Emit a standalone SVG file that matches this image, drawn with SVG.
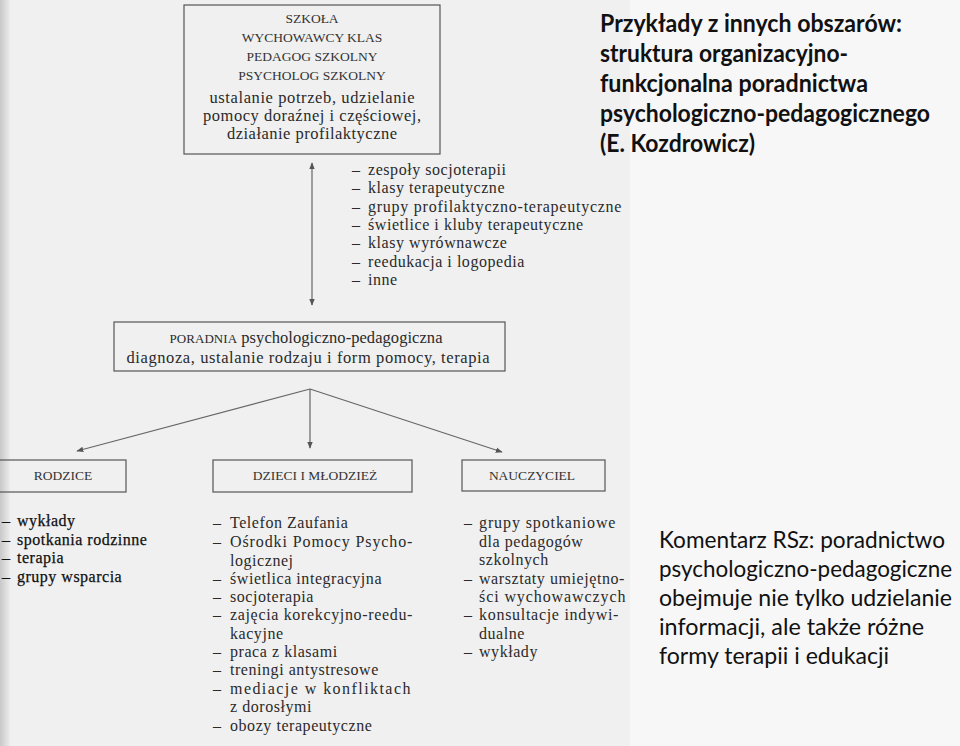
<svg xmlns="http://www.w3.org/2000/svg" width="960" height="746" viewBox="0 0 960 746">
<style>
.bg{fill:#f7f7f7}
.box{fill:none;stroke:#555;stroke-width:1.2}
.sc{font-family:"Liberation Serif",serif;font-size:13.5px;fill:#333;text-anchor:middle}
.bt{font-family:"Liberation Serif",serif;font-size:16.5px;fill:#2a2a2a;text-anchor:middle}
.li{font-family:"Liberation Serif",serif;font-size:16px;letter-spacing:0.55px;fill:#2a2a2a}
.lb{font-family:"Liberation Serif",serif;font-size:16px;letter-spacing:0.55px;fill:#2a2a2a}
.ld{font-family:"Liberation Serif",serif;font-size:16px;letter-spacing:0.5px;fill:#111;stroke:#111;stroke-width:0.25}
.hd{font-family:Lato,"Open Sans",sans-serif;font-size:24px;font-weight:bold;fill:#111}
.cm{font-family:Lato,"Open Sans",sans-serif;font-size:23px;fill:#111}
.conn{stroke:#666;stroke-width:1.2;fill:none}
</style>
<defs>
<linearGradient id="edge" x1="0" y1="0" x2="1" y2="0">
<stop offset="0" stop-color="#c8c8c8"/>
<stop offset="1" stop-color="#ececec"/>
</linearGradient>
<marker id="ah" viewBox="0 0 10 10" refX="9" refY="5" markerWidth="7" markerHeight="7" orient="auto-start-reverse" markerUnits="userSpaceOnUse">
<path d="M0,1 L10,5 L0,9 Z" fill="#555"/>
</marker>
</defs>
<rect class="bg" x="0" y="0" width="960" height="746"/>
<rect x="0" y="0" width="630" height="746" fill="#f0f0f0"/>
<rect x="0" y="0" width="10" height="746" fill="url(#edge)"/>

<g id="szkola">
<rect class="box" x="184" y="5" width="256" height="149"/>
<text class="sc" x="312" y="23">SZKOŁA</text>
<text class="sc" x="312" y="42">WYCHOWAWCY KLAS</text>
<text class="sc" x="312" y="61">PEDAGOG SZKOLNY</text>
<text class="sc" x="312" y="80">PSYCHOLOG SZKOLNY</text>
<text class="bt" x="312" y="103" textLength="205">ustalanie potrzeb, udzielanie</text>
<text class="bt" x="312" y="121" textLength="218">pomocy doraźnej i częściowej,</text>
<text class="bt" x="312" y="139" textLength="170">działanie profilaktyczne</text>
</g>

<g id="formy-szkolne">
<text class="li" y="175"><tspan x="352">–</tspan><tspan x="368">zespoły socjoterapii</tspan></text>
<text class="li" y="193"><tspan x="352">–</tspan><tspan x="368">klasy terapeutyczne</tspan></text>
<text class="li" y="212"><tspan x="352">–</tspan><tspan x="368" textLength="254">grupy profilaktyczno-terapeutyczne</tspan></text>
<text class="li" y="230"><tspan x="352">–</tspan><tspan x="368">świetlice i kluby terapeutyczne</tspan></text>
<text class="li" y="248"><tspan x="352">–</tspan><tspan x="368">klasy wyrównawcze</tspan></text>
<text class="li" y="267"><tspan x="352">–</tspan><tspan x="368">reedukacja i logopedia</tspan></text>
<text class="li" y="285"><tspan x="352">–</tspan><tspan x="368">inne</tspan></text>
</g>

<g id="poradnia">
<rect class="box" x="114" y="322" width="391" height="49"/>
<text class="bt" x="306" y="343" font-size="17px" textLength="273"><tspan font-size="13px">PORADNIA</tspan> psychologiczno-pedagogiczna</text>
<text class="bt" x="308" y="363" font-size="17px" textLength="363">diagnoza, ustalanie rodzaju i form pomocy, terapia</text>
</g>

<g id="rodzice">
<rect class="box" x="-2" y="460" width="128" height="32"/>
<text class="sc" x="63" y="480">RODZICE</text>
<text class="ld" y="526"><tspan x="2">–</tspan><tspan x="17">wykłady</tspan></text>
<text class="ld" y="545"><tspan x="2">–</tspan><tspan x="17">spotkania rodzinne</tspan></text>
<text class="ld" y="563"><tspan x="2">–</tspan><tspan x="17">terapia</tspan></text>
<text class="ld" y="582"><tspan x="2">–</tspan><tspan x="17">grupy wsparcia</tspan></text>
</g>

<g id="dzieci">
<rect class="box" x="213" y="460" width="199" height="32"/>
<text class="sc" x="315" y="480">DZIECI I MŁODZIEŻ</text>
<text class="lb" y="528"><tspan x="213">–</tspan><tspan x="230">Telefon Zaufania</tspan></text>
<text class="lb" y="547"><tspan x="213">–</tspan><tspan x="230" textLength="183">Ośrodki Pomocy Psycho-</tspan></text>
<text class="lb" x="230" y="566">logicznej</text>
<text class="lb" y="584"><tspan x="213">–</tspan><tspan x="230">świetlica integracyjna</tspan></text>
<text class="lb" y="602"><tspan x="213">–</tspan><tspan x="230">socjoterapia</tspan></text>
<text class="lb" y="620"><tspan x="213">–</tspan><tspan x="230" textLength="183">zajęcia korekcyjno-reedu-</tspan></text>
<text class="lb" x="230" y="639">kacyjne</text>
<text class="lb" y="657"><tspan x="213">–</tspan><tspan x="230">praca z klasami</tspan></text>
<text class="lb" y="675"><tspan x="213">–</tspan><tspan x="230">treningi antystresowe</tspan></text>
<text class="lb" y="694"><tspan x="213">–</tspan><tspan x="230" textLength="181">mediacje w konfliktach</tspan></text>
<text class="lb" x="230" y="712">z dorosłymi</text>
<text class="lb" y="731"><tspan x="213">–</tspan><tspan x="230">obozy terapeutyczne</tspan></text>
</g>

<g id="nauczyciel">
<rect class="box" x="462" y="460" width="143" height="31"/>
<text class="sc" x="532" y="480">NAUCZYCIEL</text>
<text class="lb" y="528"><tspan x="464">–</tspan><tspan x="479" textLength="137">grupy spotkaniowe</tspan></text>
<text class="lb" x="479" y="547">dla pedagogów</text>
<text class="lb" x="479" y="565">szkolnych</text>
<text class="lb" y="584"><tspan x="464">–</tspan><tspan x="479" textLength="146">warsztaty umiejętno-</tspan></text>
<text class="lb" x="479" y="602" textLength="147">ści wychowawczych</text>
<text class="lb" y="620"><tspan x="464">–</tspan><tspan x="479" textLength="140">konsultacje indywi-</tspan></text>
<text class="lb" x="479" y="639">dualne</text>
<text class="lb" y="657"><tspan x="464">–</tspan><tspan x="479">wykłady</tspan></text>
</g>

<g id="connectors">
<line class="conn" x1="312" y1="163" x2="312" y2="305" marker-start="url(#ah)" marker-end="url(#ah)"/>
<line class="conn" x1="310" y1="389" x2="77" y2="451" marker-end="url(#ah)"/>
<line class="conn" x1="310" y1="389" x2="310" y2="448" marker-end="url(#ah)"/>
<line class="conn" x1="310" y1="389" x2="502" y2="452" marker-end="url(#ah)"/>
</g>

<g id="tytul">
<text class="hd" x="600" y="32" textLength="302" lengthAdjust="spacingAndGlyphs">Przykłady z innych obszarów:</text>
<text class="hd" x="600" y="62" textLength="248" lengthAdjust="spacingAndGlyphs">struktura organizacyjno-</text>
<text class="hd" x="600" y="92" textLength="268" lengthAdjust="spacingAndGlyphs">funkcjonalna poradnictwa</text>
<text class="hd" x="600" y="122" textLength="330" lengthAdjust="spacingAndGlyphs">psychologiczno-pedagogicznego</text>
<text class="hd" x="600" y="152" textLength="155" lengthAdjust="spacingAndGlyphs">(E. Kozdrowicz)</text>
</g>

<g id="komentarz">
<text class="cm" x="659" y="548" textLength="286" lengthAdjust="spacingAndGlyphs">Komentarz RSz: poradnictwo</text>
<text class="cm" x="659" y="577" textLength="293" lengthAdjust="spacingAndGlyphs">psychologiczno-pedagogiczne</text>
<text class="cm" x="659" y="606" textLength="293" lengthAdjust="spacingAndGlyphs">obejmuje nie tylko udzielanie</text>
<text class="cm" x="659" y="635" textLength="265" lengthAdjust="spacingAndGlyphs">informacji, ale także różne</text>
<text class="cm" x="659" y="664" textLength="230" lengthAdjust="spacingAndGlyphs">formy terapii i edukacji</text>
</g>
</svg>
